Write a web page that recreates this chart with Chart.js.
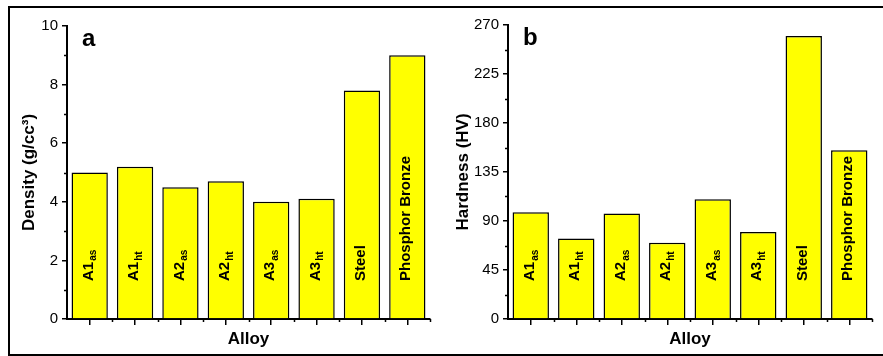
<!DOCTYPE html>
<html>
<head>
<meta charset="utf-8">
<script src="https://cdn.jsdelivr.net/npm/chart.js@4.4.1/dist/chart.umd.min.js"></script>
<style>
  html, body { margin: 0; padding: 0; background: #fff; }
  #wrap { position: relative; width: 883px; height: 356px; overflow: hidden; }
  #frame { position: absolute; left: 8px; top: 6px; width: 900px; height: 350px; border: 2px solid #000; box-sizing: border-box; }
  canvas { position: absolute; top: 0; }
  #chartA { left: 0; }
  #chartB { left: 441px; }
</style>
</head>
<body>
<div id="wrap">
  <div id="frame"></div>
  <canvas id="chartA" width="441" height="356"></canvas>
  <canvas id="chartB" width="442" height="356"></canvas>
</div>
<script>
// categories, split into main text and subscript
var labelBase = ['A1', 'A1', 'A2', 'A2', 'A3', 'A3', 'Steel', 'Phosphor Bronze'];
var labelSub = ['as', 'ht', 'as', 'ht', 'as', 'ht', '', ''];

// series values
var density = [5.0, 5.2, 4.5, 4.7, 4.0, 4.1, 7.8, 9.0];
var hardness = [98, 74, 97, 70, 110, 80, 260, 155];

// y axis ranges
var densityAxis = { min: 0, max: 10, step: 2 };
var hardnessAxis = { min: 0, max: 270, step: 45 };

var FONT = '"Liberation Sans", Arial, sans-serif';
Chart.defaults.font.family = FONT;
Chart.defaults.color = '#000';

// text written inside the bars, rotated
var barText = {
  id: 'barText',
  afterDatasetsDraw: function(chart) {
    var xs = chart.scales.x;
    var ctx = chart.ctx;
    for (var i = 0; i < labelBase.length; i++) {
      var x = xs.getPixelForValue(i);
      ctx.save();
      ctx.translate(x - 1, chart.chartArea.bottom - 38);
      ctx.rotate(-Math.PI / 2);
      ctx.fillStyle = '#000';
      ctx.textBaseline = 'middle';
      ctx.textAlign = 'left';
      ctx.font = 'bold 15px ' + FONT;
      ctx.fillText(labelBase[i], 0, 0);
      if (labelSub[i]) {
        var w = ctx.measureText(labelBase[i]).width;
        ctx.font = 'bold 10px ' + FONT;
        ctx.fillText(labelSub[i], w + 1, 5);
      }
      ctx.restore();
    }
  }
};

// minor ticks + panel letter
var extras = {
  id: 'extras',
  afterDraw: function(chart, args, opts) {
    var ctx = chart.ctx;
    var xs = chart.scales.x, ys = chart.scales.y;
    var area = chart.chartArea;
    ctx.save();
    ctx.strokeStyle = '#000';
    ctx.lineWidth = 1.5;
    ctx.beginPath();
    var half = opts.step / 2;
    for (var v = ys.min + half; v < ys.max; v += opts.step) {
      var py = Math.round(ys.getPixelForValue(v)) + 0.5;
      ctx.moveTo(area.left - 3, py);
      ctx.lineTo(area.left, py);
    }
    var sp = xs.getPixelForValue(1) - xs.getPixelForValue(0);
    for (var i = 1; i <= labelBase.length; i++) {
      var px = Math.round(xs.getPixelForValue(i) - sp / 2) + 0.5;
      ctx.moveTo(px, area.bottom);
      ctx.lineTo(px, area.bottom + 3);
    }
    ctx.stroke();
    ctx.fillStyle = '#000';
    ctx.font = 'bold 24px ' + FONT;
    ctx.textAlign = 'left';
    ctx.textBaseline = 'alphabetic';
    ctx.fillText(opts.letter, area.left + 15, area.top + 20);
    ctx.restore();
  }
};

function makeChart(id, values, axis, title, titlePad, letter, topPad) {
  return new Chart(document.getElementById(id).getContext('2d'), {
    type: 'bar',
    data: {
      labels: labelBase.map(function(b, i) { return b + labelSub[i]; }),
      datasets: [{
        data: values,
        backgroundColor: '#FFFF00',
        borderColor: '#000',
        borderWidth: 1.5,
        categoryPercentage: 0.8,
        barPercentage: 1.0
      }]
    },
    plugins: [barText, extras],
    options: {
      responsive: false,
      animation: false,
      devicePixelRatio: 1,
      layout: { padding: { left: 0, right: 11, top: topPad, bottom: 0 } },
      plugins: {
        legend: { display: false },
        tooltip: { enabled: false },
        extras: { step: axis.step, letter: letter }
      },
      scales: {
        x: {
          offset: true,
          grid: { display: true, drawOnChartArea: false, drawTicks: true, tickLength: 6, offset: false, color: '#000', lineWidth: 1.5 },
          border: { display: true, color: '#000', width: 2 },
          ticks: { display: false },
          title: { display: true, text: 'Alloy', font: { size: 17, weight: 'bold' }, padding: { top: 0, bottom: 6 } },
          afterFit: function(s) { s.height = 37; }
        },
        y: {
          min: axis.min,
          max: axis.max,
          grid: { display: true, drawOnChartArea: false, drawTicks: true, tickLength: 5, color: '#000', lineWidth: 1.5 },
          border: { display: true, color: '#000', width: 2 },
          ticks: { stepSize: axis.step, padding: 4, font: { size: 15 }, color: '#000' },
          title: { display: true, text: title, font: { size: 17, weight: 'bold' }, padding: { top: titlePad, bottom: 0 } },
          afterFit: function(s) { s.width = 67; }
        }
      }
    }
  });
}

makeChart('chartA', density, densityAxis, 'Density (g/cc\u00B3)', 19, 'a', 26);
makeChart('chartB', hardness, hardnessAxis, 'Hardness (HV)', 12, 'b', 25);
</script>
</body>
</html>
